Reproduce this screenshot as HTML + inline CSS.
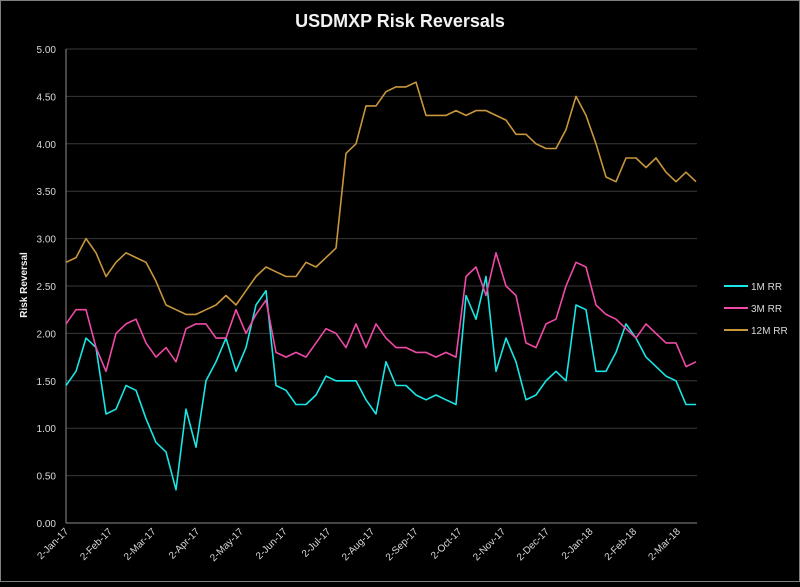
<!DOCTYPE html>
<html><head><meta charset="utf-8"><style>
body{margin:0;background:#000;}
svg text{font-family:"Liberation Sans",sans-serif;fill:#d9d9d9;}
</style></head><body>
<svg id="chart" width="800" height="582">
<rect x="0.5" y="0.5" width="799" height="581" fill="#000" stroke="#7f7f7f"/>
<text x="400" y="27" text-anchor="middle" font-size="18" font-weight="bold" style="fill:#f2f2f2">USDMXP Risk Reversals</text>
<text transform="translate(27,285) rotate(-90)" text-anchor="middle" font-size="10" font-weight="bold" style="fill:#f2f2f2">Risk Reversal</text>
<g id="grid"></g><g id="series"></g><g id="legend"></g>
</svg>
<script>
const yTicks=[0,0.5,1,1.5,2,2.5,3,3.5,4,4.5,5];
const xLabels=["2-Jan-17","2-Feb-17","2-Mar-17","2-Apr-17","2-May-17","2-Jun-17","2-Jul-17","2-Aug-17","2-Sep-17","2-Oct-17","2-Nov-17","2-Dec-17","2-Jan-18","2-Feb-18","2-Mar-18"];
const seriesNames=["1M RR","3M RR","12M RR"];
const seriesColors=["#19e6e6","#ef4aa6","#c8963e"];
const rr1M=[1.45,1.6,1.95,1.85,1.15,1.2,1.45,1.4,1.1,0.85,0.75,0.35,1.2,0.8,1.5,1.7,1.95,1.6,1.85,2.3,2.45,1.45,1.4,1.25,1.25,1.35,1.55,1.5,1.5,1.5,1.3,1.15,1.7,1.45,1.45,1.35,1.3,1.35,1.3,1.25,2.4,2.15,2.6,1.6,1.95,1.7,1.3,1.35,1.5,1.6,1.5,2.3,2.25,1.6,1.6,1.8,2.1,1.95,1.75,1.65,1.55,1.5,1.25,1.25];
const rr3M=[2.1,2.25,2.25,1.85,1.6,2.0,2.1,2.15,1.9,1.75,1.85,1.7,2.05,2.1,2.1,1.95,1.95,2.25,2.0,2.2,2.35,1.8,1.75,1.8,1.75,1.9,2.05,2.0,1.85,2.1,1.85,2.1,1.95,1.85,1.85,1.8,1.8,1.75,1.8,1.75,2.6,2.7,2.4,2.85,2.5,2.4,1.9,1.85,2.1,2.15,2.5,2.75,2.7,2.3,2.2,2.15,2.05,1.95,2.1,2.0,1.9,1.9,1.65,1.7];
const rr12M=[2.75,2.8,3.0,2.85,2.6,2.75,2.85,2.8,2.75,2.55,2.3,2.25,2.2,2.2,2.25,2.3,2.4,2.3,2.45,2.6,2.7,2.65,2.6,2.6,2.75,2.7,2.8,2.9,3.9,4.0,4.4,4.4,4.55,4.6,4.6,4.65,4.3,4.3,4.3,4.35,4.3,4.35,4.35,4.3,4.25,4.1,4.1,4.0,3.95,3.95,4.15,4.5,4.3,4.0,3.65,3.6,3.85,3.85,3.75,3.85,3.7,3.6,3.7,3.6];
const X0=66,X1=697,Y0=523,Y5=49;
const yS=v=>Y0-(v/5)*(Y0-Y5);
const xS=(i,n)=>X0+i*(X1-1-X0)/(n-1);
const monthX=i=>69+i*43.7;
const NS="http://www.w3.org/2000/svg";
function mk(tag,attrs,parent){const e=document.createElementNS(NS,tag);for(const k in attrs)e.setAttribute(k,attrs[k]);parent.appendChild(e);return e;}
const grid=document.getElementById('grid');
yTicks.forEach(v=>{
  if(v>0){const l=mk('line',{x1:X0,x2:X1,y1:yS(v),y2:yS(v),stroke:'#3a3a3a','stroke-width':1},grid);
  
  }
  const t=mk('text',{x:56,y:yS(v)+4,'text-anchor':'end','font-size':10},grid);
  t.textContent=v.toFixed(2);
  
  
});
const ax=mk('line',{x1:X0,x2:X0,y1:Y5,y2:Y0,stroke:'#8c8c8c'},grid);


const bx=mk('line',{x1:X0,x2:X1,y1:Y0,y2:Y0,stroke:'#8c8c8c'},grid);


xLabels.forEach((s,i)=>{
  const x=monthX(i);
  const t=mk('text',{x:x,y:532,'text-anchor':'end','font-size':10,transform:`rotate(-45 ${x} 532)`},grid);
  t.textContent=s;
  
  
});
const sg=document.getElementById('series');
[rr1M,rr3M,rr12M].forEach((arr,si)=>{
  const pts=arr.map((v,i)=>xS(i,arr.length).toFixed(1)+','+yS(v).toFixed(1)).join(' ');
  const p=mk('polyline',{points:pts,fill:'none',stroke:seriesColors[si],'stroke-width':1.6,'stroke-linejoin':'round'},sg);
  
  
});
const lg=document.getElementById('legend');
seriesNames.forEach((n,i)=>{
  const y=286+i*22;
  const l=mk('line',{x1:724,x2:748,y1:y,y2:y,stroke:seriesColors[i],'stroke-width':2},lg);
  
  
  const t=mk('text',{x:751,y:y+4,'font-size':10},lg);
  t.textContent=n;
  
  
});
</script>
</body></html>
